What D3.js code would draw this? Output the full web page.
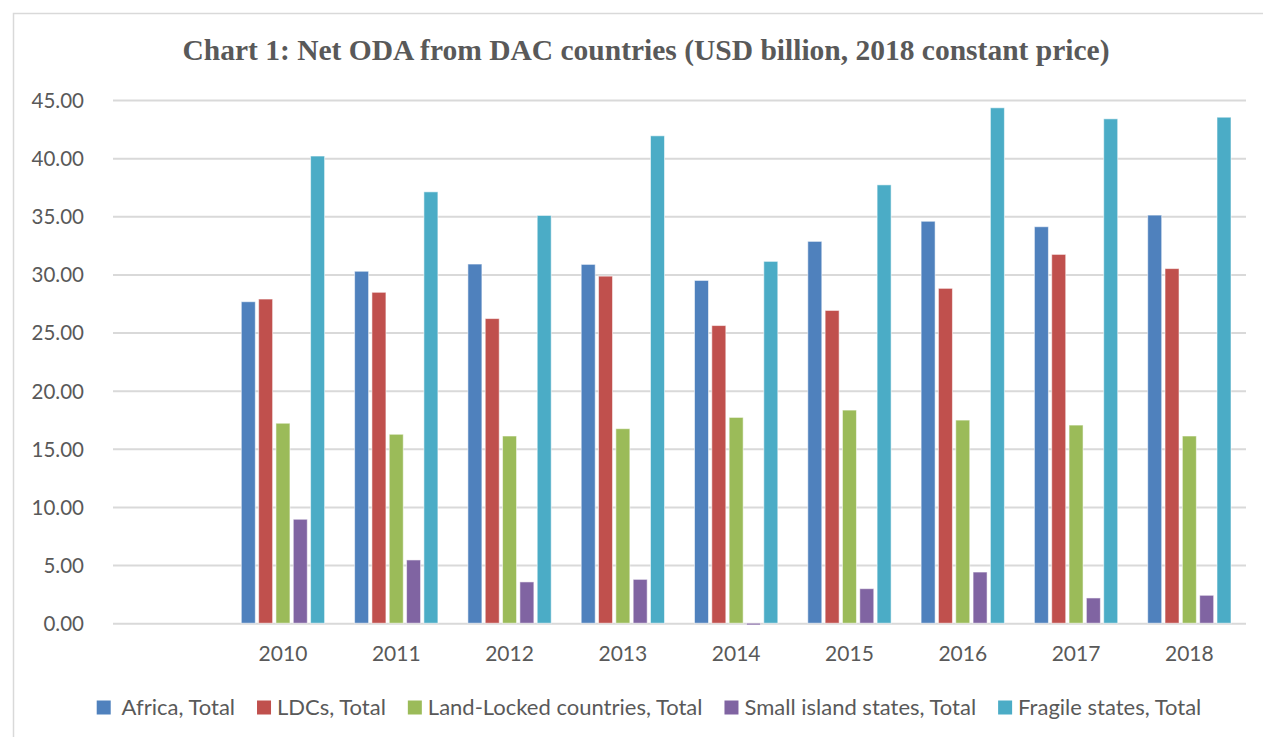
<!DOCTYPE html>
<html>
<head>
<meta charset="utf-8">
<script src="https://cdn.jsdelivr.net/npm/d3@7"></script>
<style>
  html, body { margin: 0; padding: 0; background: #fff; overflow: hidden; }
  svg { display: block; }
</style>
</head>
<body>
<svg id="chart" width="1263" height="737"></svg>
<script>
// Net ODA from DAC countries, USD billion at 2018 constant prices
const categories = ["", "2010", "2011", "2012", "2013", "2014", "2015", "2016", "2017", "2018"];
const seriesNames = [" Africa, Total", "LDCs, Total", "Land-Locked countries, Total", "Small island states, Total", "Fragile states, Total"];
const seriesColors = ["#4F81BD", "#C0504D", "#9BBB59", "#8064A2", "#4BACC6"];

const africa   = [null, 27.65, 30.27, 30.89, 30.86, 29.48, 32.84, 34.57, 34.10, 35.10];
const ldcs     = [null, 27.88, 28.46, 26.20, 29.85, 25.60, 26.90, 28.80, 31.72, 30.50];
const landLock = [null, 17.20, 16.25, 16.10, 16.73, 17.70, 18.33, 17.47, 17.04, 16.10];
const islands  = [null,  8.94,  5.44,  3.55,  3.77, -0.15,  2.97,  4.40,  2.17,  2.40];
const fragile  = [null, 40.18, 37.10, 35.07, 41.92, 31.12, 37.70, 44.33, 43.38, 43.52];

const yTicks = [0, 5, 10, 15, 20, 25, 30, 35, 40, 45];
const titleText = "Chart 1: Net ODA from DAC countries (USD billion, 2018 constant price)";

const seriesValues = [africa, ldcs, landLock, islands, fragile];

const svg = d3.select("#chart");
const W = 1263, H = 737;
const plot = { left: 113, right: 1246, top: 100, bottom: 623.2 };
const textColor = "#595959";
const gridColor = "#D9D9D9";
const sans = "Lato, 'Open Sans', sans-serif";

// outer frame of the chart area
svg.append("path")
  .attr("d", `M13.5,${H + 5} L13.5,13.5 L${W + 5},13.5`)
  .attr("fill", "none")
  .attr("stroke", gridColor)
  .attr("stroke-width", 1.5);

// title
svg.append("text")
  .attr("x", 646)
  .attr("y", 60)
  .attr("text-anchor", "middle")
  .attr("font-family", "'Liberation Serif', 'Times New Roman', serif")
  .attr("font-weight", "bold")
  .attr("font-size", 29.5)
  .attr("fill", textColor)
  .text(titleText);

const x = d3.scaleBand().domain(categories).range([plot.left, plot.right]).padding(0);
const xInner = d3.scaleBand().domain(d3.range(seriesNames.length))
  .range([0, 83.3]).paddingInner(0.192).paddingOuter(0);
const y = d3.scaleLinear().domain([0, 45]).range([plot.bottom, plot.top]);

// value axis with gridlines
const yAxis = d3.axisLeft(y).tickValues(yTicks)
  .tickSize(-(plot.right - plot.left)).tickPadding(29)
  .tickFormat(d3.format(".2f"));
const gy = svg.append("g").attr("transform", `translate(${plot.left},0)`).call(yAxis);
gy.select(".domain").remove();
gy.selectAll(".tick line").attr("stroke", gridColor).attr("stroke-width", 2);
gy.selectAll(".tick text")
  .attr("fill", textColor)
  .attr("font-family", sans)
  .attr("font-size", 20.5)
  .attr("dy", "0.36em");

// bars
const groupOffset = (x.bandwidth() - 83.3) / 2;
seriesValues.forEach((vals, si) => {
  svg.append("g")
    .selectAll("rect")
    .data(categories.map((c, i) => ({ c, v: vals[i] })).filter(d => d.v !== null))
    .join("rect")
    .attr("x", d => x(d.c) + groupOffset + xInner(si))
    .attr("width", xInner.bandwidth())
    .attr("y", d => y(Math.max(0, d.v)))
    .attr("height", d => Math.abs(y(d.v) - y(0)))
    .attr("fill", seriesColors[si])
    .attr("stroke", "#ffffff")
    .attr("stroke-opacity", 0.55)
    .attr("stroke-width", 1);
});

// category axis labels
const xAxis = d3.axisBottom(x).tickSize(0).tickPadding(23);
const gx = svg.append("g").attr("transform", `translate(0,${plot.bottom})`).call(xAxis);
gx.select(".domain").remove();
gx.selectAll(".tick text")
  .attr("fill", textColor)
  .attr("font-family", sans)
  .attr("font-size", 21)
  .attr("dy", "0.71em");

// legend
const legendGap = 22;
const legend = svg.append("g");
const items = legend.selectAll("g").data(seriesNames).join("g");
items.append("rect")
  .attr("width", 14).attr("height", 14)
  .attr("y", -7)
  .attr("fill", (d, i) => seriesColors[i]);
items.append("text")
  .attr("x", 20)
  .attr("dy", "0.35em")
  .attr("fill", textColor)
  .attr("font-family", sans)
  .attr("font-size", 22)
  .style("white-space", "pre")
  .attr("xml:space", "preserve")
  .text(d => d);
let cursor = 0;
const offsets = [];
items.each(function () {
  offsets.push(cursor);
  const tw = d3.select(this).select("text").node().getComputedTextLength();
  cursor += 20 + tw + legendGap;
});
const totalW = cursor - legendGap;
const startX = 649 - totalW / 2;
items.attr("transform", (d, i) => `translate(${startX + offsets[i]},707.5)`);
</script>
</body>
</html>
